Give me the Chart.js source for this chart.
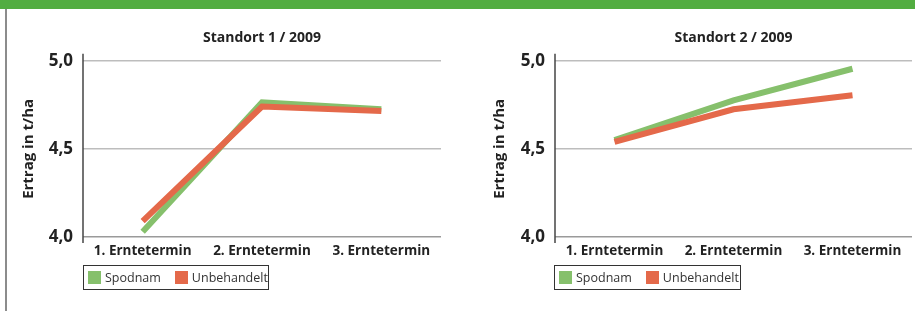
<!DOCTYPE html>
<html>
<head>
<meta charset="utf-8">
<script src="https://cdn.jsdelivr.net/npm/chart.js@4.4.1/dist/chart.umd.min.js"></script>
<style>
  html, body { margin:0; padding:0; background:#fff; }
  body { width:915px; height:311px; position:relative; overflow:hidden; font-family:"Open Sans", sans-serif; }
  #band { position:absolute; left:0; top:0; width:915px; height:9px; background:#52ad41; }
  #leftline { position:absolute; left:5px; top:9px; width:2px; height:302px; background:#8c8c8c; }
  .cw { position:absolute; top:0; }
  .legend { position:absolute; top:265px; height:23px; border:1.5px solid #333; box-sizing:content-box;
            display:flex; align-items:center; font-size:12.5px; color:#333; white-space:nowrap; }
  .legend .item { display:flex; align-items:center; margin-left:4px; margin-right:10px; }
  .legend .sw { width:13px; height:13px; margin-right:4px; }
</style>
</head>
<body>
<div id="band"></div>
<div id="leftline"></div>
<div class="cw" style="left:0;width:455px;height:311px;"><canvas id="c1" width="455" height="311"></canvas></div>
<div class="cw" style="left:455px;width:460px;height:311px;"><canvas id="c2" width="460" height="311"></canvas></div>
<div class="legend" id="lg1" style="left:83px;width:184px;"></div>
<div class="legend" id="lg2" style="left:554px;width:185px;"></div>
<script>
// ---- data ----
const categories = ['1. Erntetermin', '2. Erntetermin', '3. Erntetermin'];
const seriesNames = ['Spodnam', 'Unbehandelt'];
const titles = ['Standort 1 / 2009', 'Standort 2 / 2009'];
const yAxisTitle = 'Ertrag in t/ha';
const yTickValues = [4.0, 4.5, 5.0];
const yTickLabels = ['4,0', '4,5', '5,0'];
const standort1Spodnam = [4.03, 4.765, 4.725];
const standort1Unbehandelt = [4.09, 4.74, 4.715];
const standort2Spodnam = [4.55, 4.775, 4.955];
const standort2Unbehandelt = [4.54, 4.725, 4.805];

const GREEN = '#86c06c';
const RED = '#e4694a';
const colors = [GREEN, RED];
const FONT = '"Open Sans", sans-serif';

const yAxisLine = {
  id: 'yAxisLine',
  afterLayout(chart) {
    // center the title over the plot area instead of the whole canvas
    if (chart.titleBlock) {
      chart.titleBlock.left = chart.chartArea.left;
      chart.titleBlock.right = chart.chartArea.right;
    }
  },
  afterDraw(chart) {
    const ctx = chart.ctx, a = chart.chartArea;
    ctx.save();
    ctx.strokeStyle = '#444';
    ctx.lineWidth = 1.5;
    ctx.beginPath();
    ctx.moveTo(a.left, a.top - 7);
    ctx.lineTo(a.left, a.bottom + 6);
    ctx.stroke();
    ctx.restore();
  }
};

function makeChart(id, title, greenData, redData, yWidth, padRight, yTitlePad) {
  return new Chart(document.getElementById(id), {
    type: 'line',
    data: {
      labels: categories,
      datasets: [
        { label: seriesNames[0], data: greenData, borderColor: GREEN, backgroundColor: GREEN,
          borderWidth: 6, pointRadius: 0, tension: 0, borderCapStyle: 'butt', borderJoinStyle: 'miter', order: 1 },
        { label: seriesNames[1], data: redData, borderColor: RED, backgroundColor: RED,
          borderWidth: 6, pointRadius: 0, tension: 0, borderCapStyle: 'butt', borderJoinStyle: 'miter', order: 0 }
      ]
    },
    options: {
      responsive: false,
      animation: false,
      events: [],
      layout: { padding: { top: 0, left: 0, right: padRight, bottom: 44 } },
      plugins: {
        legend: { display: false },
        tooltip: { enabled: false },
        title: {
          display: true, text: title, color: '#222',
          font: { family: FONT, size: 14, weight: 'bold' },
          padding: { top: 30, bottom: 14 }
        }
      },
      scales: {
        x: {
          offset: true,
          grid: { display: false, drawTicks: false },
          border: { display: false },
          ticks: { color: '#222', font: { family: FONT, size: 13.5, weight: 'bold' }, padding: 6,
                   maxRotation: 0, autoSkip: false },
          afterFit(s) { s.height = 30; }
        },
        y: {
          min: 4, max: 5,
          afterBuildTicks(s) { s.ticks = yTickValues.map(v => ({ value: v })); },
          grid: {
            drawTicks: false,
            color: (c) => c.index === 0 ? '#9a9a9a' : '#bdbdbd',
            lineWidth: 1.5
          },
          border: { display: false },
          ticks: {
            color: '#222', padding: 10,
            font: { family: FONT, size: 17, weight: 'bold' },
            callback: (v) => { const i = yTickValues.indexOf(v); return i >= 0 ? yTickLabels[i] : ''; }
          },
          title: {
            display: true, text: yAxisTitle, color: '#222',
            font: { family: FONT, size: 15, weight: 'bold' },
            padding: { top: yTitlePad, bottom: 0 }
          },
          afterFit(s) { s.width = yWidth; }
        }
      }
    },
    plugins: [yAxisLine]
  });
}

makeChart('c1', titles[0], standort1Spodnam, standort1Unbehandelt, 83, 14, 20);
makeChart('c2', titles[1], standort2Spodnam, standort2Unbehandelt, 100, 3, 36);

function buildLegend(id) {
  const el = document.getElementById(id);
  seriesNames.forEach((n, i) => {
    const it = document.createElement('div');
    it.className = 'item';
    const sw = document.createElement('div');
    sw.className = 'sw';
    sw.style.background = colors[i];
    const tx = document.createElement('span');
    tx.textContent = n;
    it.appendChild(sw); it.appendChild(tx);
    el.appendChild(it);
  });
}
buildLegend('lg1');
buildLegend('lg2');
</script>
</body>
</html>
